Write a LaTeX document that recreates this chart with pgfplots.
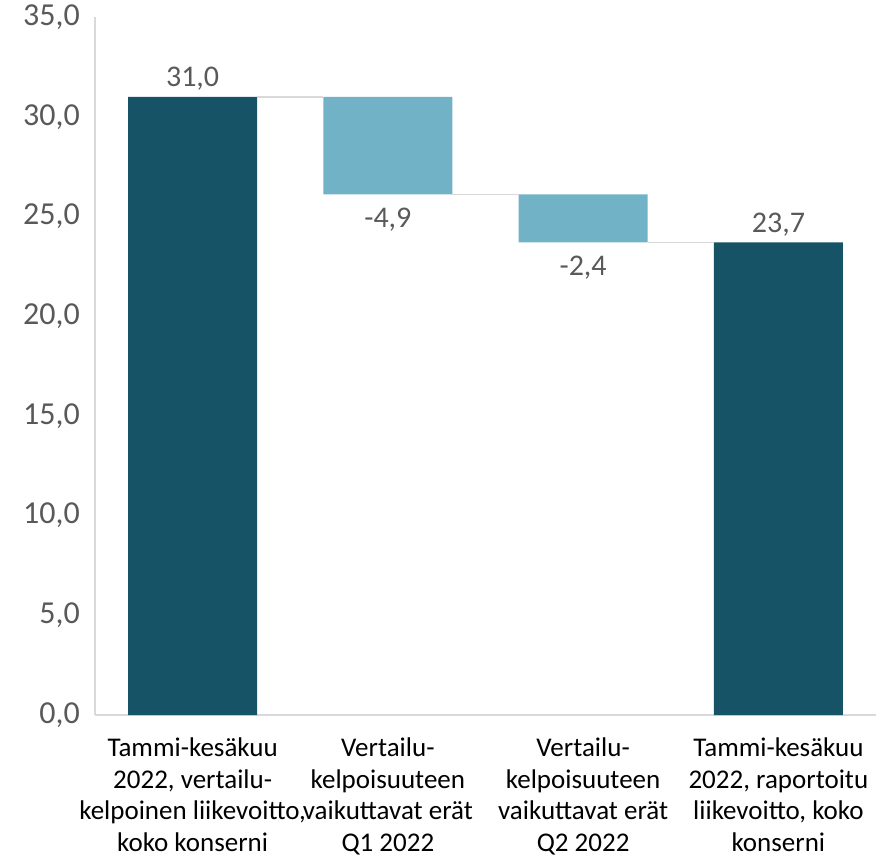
\documentclass[border=0pt]{standalone}
\usepackage{fontspec}
\setmainfont{Carlito}
\usepackage{pgfplots}
\pgfplotsset{compat=1.18}
\definecolor{darkbar}{HTML}{175366}
\definecolor{lightbar}{HTML}{72B2C7}
\definecolor{axisgray}{HTML}{D9D9D9}
\definecolor{txt}{HTML}{595959}
\begin{document}
\begin{tikzpicture}
\useasboundingbox (-95pt,-144pt) rectangle (796pt,715pt);
\pgfplotsset{
  common/.style={
    at={(0,0)}, anchor=south west,
    scale only axis, width=781pt, height=698pt,
    xmin=-0.5, xmax=3.5, ymin=0, ymax=35,
    clip=false,
  }
}
\begin{axis}[common,
  ybar stacked, bar width=0.66,
  axis x line*=bottom, axis y line*=left,
  axis line style={draw=axisgray, line width=1.5pt, -},
  major tick length=0pt,
  ytick={0,5,...,35},
  xtick={0,1,2,3},
  xticklabels={
    {Tammi-kesäkuu\\2022, vertailu-\\kelpoinen liikevoitto,\\koko konserni},
    {Vertailu-\\kelpoisuuteen\\vaikuttavat erät\\Q1 2022},
    {Vertailu-\\kelpoisuuteen\\vaikuttavat erät\\Q2 2022},
    {Tammi-kesäkuu\\2022, raportoitu\\liikevoitto, koko\\konserni}},
  xticklabel style={align=center, text=black, font=\fontsize{27}{31.5}\selectfont, anchor=north, inner sep=0pt, yshift=-23pt},
  yticklabel style={text=txt, font=\fontsize{32}{38}\selectfont, anchor=east, inner sep=0pt, xshift=-15pt},
  /pgf/number format/.cd, use comma, fixed, fixed zerofill, precision=1, assume math mode=true,
]
\addplot[draw=none, fill=none] coordinates {(0,0) (1,26.1) (2,23.7) (3,0)};
\addplot[draw=none, fill=darkbar] coordinates {(0,31.0) (1,0) (2,0) (3,23.7)};
\addplot[draw=none, fill=lightbar] coordinates {(0,0) (1,4.9) (2,2.4) (3,0)};
\end{axis}
\begin{axis}[common, hide axis]
\addplot[axisgray, line width=1.5pt] coordinates {(0.33,31.0) (0.67,31.0)};
\addplot[axisgray, line width=1.5pt] coordinates {(1.33,26.1) (1.67,26.1)};
\addplot[axisgray, line width=1.5pt] coordinates {(2.33,23.7) (2.67,23.7)};
\addplot[draw=none, mark=none, nodes near coords, point meta=explicit symbolic,
  every node near coord/.append style={anchor=south, text=txt, font=\fontsize{30}{36}\selectfont, inner sep=6pt}]
  table[meta=label] {
x y label
0 31.0 {31,0}
3 23.7 {23,7}
};
\addplot[draw=none, mark=none, nodes near coords, point meta=explicit symbolic,
  every node near coord/.append style={anchor=north, text=txt, font=\fontsize{30}{36}\selectfont, inner sep=13pt}]
  table[meta=label] {
x y label
1 26.1 {-4,9}
2 23.7 {-2,4}
};
\end{axis}
\end{tikzpicture}
\end{document}
